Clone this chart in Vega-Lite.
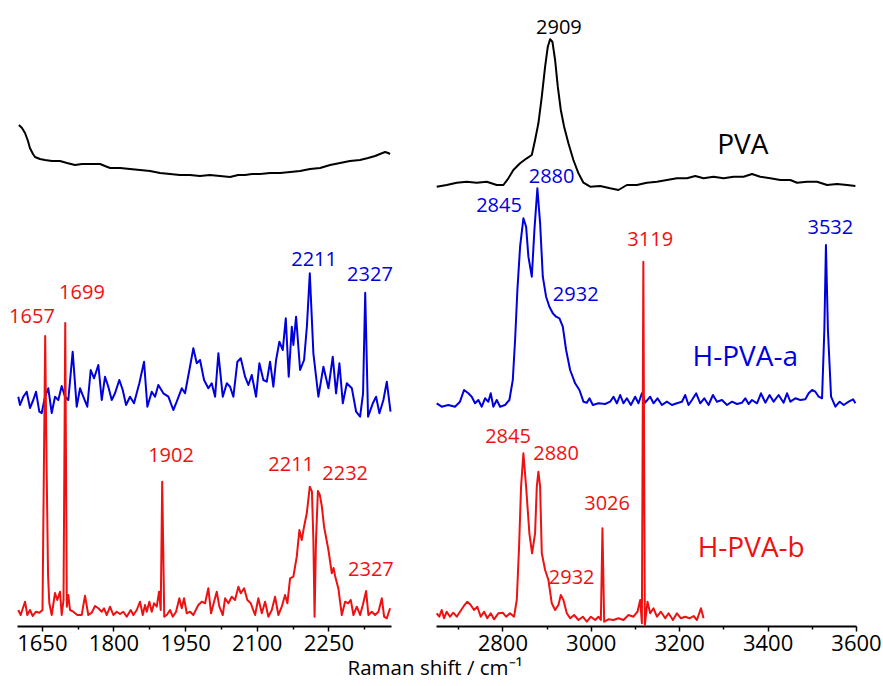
{
"$schema": "https://vega.github.io/schema/vega-lite/v6.json",
"padding": {"left": 9, "top": 0, "right": 0, "bottom": 0},
"background": "white",
"config": {"view": {"stroke": null}, "font": "Open Sans"},
"title": {"text": "Raman shift / cm⁻¹", "orient": "bottom", "anchor": "middle", "fontSize": 20.5, "fontWeight": "normal", "font": "Open Sans", "color": "black", "offset": 5, "dx": -10},
"spacing": 45,
"bounds": "flush",
"resolve": {"scale": {"x": "independent", "y": "independent"}},
"datasets": {
"spectra": [
{"panel":"L","series":"PVA","shift":1602,"intensity":501},{"panel":"L","series":"PVA","shift":1608.5,"intensity":498},{"panel":"L","series":"PVA","shift":1614.8,"intensity":493},{"panel":"L","series":"PVA","shift":1621,"intensity":485},{"panel":"L","series":"PVA","shift":1625,"intensity":478},{"panel":"L","series":"PVA","shift":1631.5,"intensity":472},{"panel":"L","series":"PVA","shift":1635.7,"intensity":469},{"panel":"L","series":"PVA","shift":1646,"intensity":467},{"panel":"L","series":"PVA","shift":1656.6,"intensity":466},{"panel":"L","series":"PVA","shift":1671,"intensity":465},{"panel":"L","series":"PVA","shift":1688,"intensity":465},{"panel":"L","series":"PVA","shift":1702.7,"intensity":463},{"panel":"L","series":"PVA","shift":1719.5,"intensity":461},{"panel":"L","series":"PVA","shift":1734,"intensity":462},{"panel":"L","series":"PVA","shift":1751,"intensity":462},{"panel":"L","series":"PVA","shift":1772,"intensity":462},{"panel":"L","series":"PVA","shift":1782,"intensity":460},{"panel":"L","series":"PVA","shift":1793,"intensity":458},{"panel":"L","series":"PVA","shift":1814,"intensity":458},{"panel":"L","series":"PVA","shift":1834.6,"intensity":457},{"panel":"L","series":"PVA","shift":1855.6,"intensity":456},{"panel":"L","series":"PVA","shift":1876.5,"intensity":455},{"panel":"L","series":"PVA","shift":1897.5,"intensity":453},{"panel":"L","series":"PVA","shift":1918.4,"intensity":452},{"panel":"L","series":"PVA","shift":1939,"intensity":451},{"panel":"L","series":"PVA","shift":1960,"intensity":451},{"panel":"L","series":"PVA","shift":1981,"intensity":450},{"panel":"L","series":"PVA","shift":2002,"intensity":451},{"panel":"L","series":"PVA","shift":2023,"intensity":450},{"panel":"L","series":"PVA","shift":2044,"intensity":449},{"panel":"L","series":"PVA","shift":2061,"intensity":451},{"panel":"L","series":"PVA","shift":2075.5,"intensity":451},{"panel":"L","series":"PVA","shift":2090,"intensity":452},{"panel":"L","series":"PVA","shift":2107,"intensity":452},{"panel":"L","series":"PVA","shift":2128,"intensity":453},{"panel":"L","series":"PVA","shift":2149,"intensity":453},{"panel":"L","series":"PVA","shift":2170,"intensity":454},{"panel":"L","series":"PVA","shift":2190.6,"intensity":455},{"panel":"L","series":"PVA","shift":2211.6,"intensity":457},{"panel":"L","series":"PVA","shift":2232.5,"intensity":458},{"panel":"L","series":"PVA","shift":2253.5,"intensity":461},{"panel":"L","series":"PVA","shift":2274.4,"intensity":463},{"panel":"L","series":"PVA","shift":2295,"intensity":465},{"panel":"L","series":"PVA","shift":2316,"intensity":466},{"panel":"L","series":"PVA","shift":2333,"intensity":468},{"panel":"L","series":"PVA","shift":2347.7,"intensity":470},{"panel":"L","series":"PVA","shift":2358,"intensity":472},{"panel":"L","series":"PVA","shift":2368.7,"intensity":474},{"panel":"L","series":"PVA","shift":2375,"intensity":473},{"panel":"L","series":"PVA","shift":2379,"intensity":472},
{"panel":"R","series":"PVA","shift":2651.6,"intensity":439.3},{"panel":"R","series":"PVA","shift":2674.2,"intensity":441},{"panel":"R","series":"PVA","shift":2696.9,"intensity":443.3},{"panel":"R","series":"PVA","shift":2719.5,"intensity":444.3},{"panel":"R","series":"PVA","shift":2742.1,"intensity":443.3},{"panel":"R","series":"PVA","shift":2764.8,"intensity":444.3},{"panel":"R","series":"PVA","shift":2787.4,"intensity":441},{"panel":"R","series":"PVA","shift":2802.4,"intensity":441},{"panel":"R","series":"PVA","shift":2813.7,"intensity":447.7},{"panel":"R","series":"PVA","shift":2825,"intensity":456},{"panel":"R","series":"PVA","shift":2840.2,"intensity":462.7},{"panel":"R","series":"PVA","shift":2855.3,"intensity":467.7},{"panel":"R","series":"PVA","shift":2866.7,"intensity":471},{"panel":"R","series":"PVA","shift":2874.1,"intensity":486},{"panel":"R","series":"PVA","shift":2881.6,"intensity":502.7},{"panel":"R","series":"PVA","shift":2889.3,"intensity":529.3},{"panel":"R","series":"PVA","shift":2896.8,"intensity":559.3},{"panel":"R","series":"PVA","shift":2902.9,"intensity":579.3},{"panel":"R","series":"PVA","shift":2908.1,"intensity":586.7},{"panel":"R","series":"PVA","shift":2913.3,"intensity":584.3},{"panel":"R","series":"PVA","shift":2919.4,"intensity":566},{"panel":"R","series":"PVA","shift":2925.5,"intensity":539.3},{"panel":"R","series":"PVA","shift":2932.3,"intensity":516},{"panel":"R","series":"PVA","shift":2939.8,"intensity":499.3},{"panel":"R","series":"PVA","shift":2949.5,"intensity":482.7},{"panel":"R","series":"PVA","shift":2960.8,"intensity":466},{"panel":"R","series":"PVA","shift":2972.2,"intensity":452.7},{"panel":"R","series":"PVA","shift":2983.5,"intensity":443.3},{"panel":"R","series":"PVA","shift":2998.7,"intensity":439.3},{"panel":"R","series":"PVA","shift":3021.3,"intensity":440},{"panel":"R","series":"PVA","shift":3043.9,"intensity":437.7},{"panel":"R","series":"PVA","shift":3062.7,"intensity":436},{"panel":"R","series":"PVA","shift":3081.7,"intensity":441},{"panel":"R","series":"PVA","shift":3104.4,"intensity":441},{"panel":"R","series":"PVA","shift":3127,"intensity":443.3},{"panel":"R","series":"PVA","shift":3149.7,"intensity":444.3},{"panel":"R","series":"PVA","shift":3172.3,"intensity":446},{"panel":"R","series":"PVA","shift":3194.9,"intensity":447.7},{"panel":"R","series":"PVA","shift":3217.6,"intensity":447.7},{"panel":"R","series":"PVA","shift":3236.4,"intensity":450},{"panel":"R","series":"PVA","shift":3255.2,"intensity":447.7},{"panel":"R","series":"PVA","shift":3277.8,"intensity":449.3},{"panel":"R","series":"PVA","shift":3300.4,"intensity":447.7},{"panel":"R","series":"PVA","shift":3323.1,"intensity":449.3},{"panel":"R","series":"PVA","shift":3345.7,"intensity":449.3},{"panel":"R","series":"PVA","shift":3364.8,"intensity":452},{"panel":"R","series":"PVA","shift":3383.5,"intensity":449.3},{"panel":"R","series":"PVA","shift":3406.2,"intensity":447.7},{"panel":"R","series":"PVA","shift":3428.8,"intensity":446},{"panel":"R","series":"PVA","shift":3451.5,"intensity":446},{"panel":"R","series":"PVA","shift":3466.6,"intensity":443.3},{"panel":"R","series":"PVA","shift":3489.3,"intensity":444.3},{"panel":"R","series":"PVA","shift":3511.9,"intensity":444.3},{"panel":"R","series":"PVA","shift":3534.6,"intensity":441},{"panel":"R","series":"PVA","shift":3557.2,"intensity":442},{"panel":"R","series":"PVA","shift":3579.8,"intensity":441},{"panel":"R","series":"PVA","shift":3598.6,"intensity":440},
{"panel":"L","series":"H-PVA-a","shift":1600.7,"intensity":229.3},{"panel":"L","series":"H-PVA-a","shift":1604.3,"intensity":221},{"panel":"L","series":"H-PVA-a","shift":1611.2,"intensity":229.3},{"panel":"L","series":"H-PVA-a","shift":1618.3,"intensity":234.3},{"panel":"L","series":"H-PVA-a","shift":1625.2,"intensity":218},{"panel":"L","series":"H-PVA-a","shift":1632.1,"intensity":226},{"panel":"L","series":"H-PVA-a","shift":1637.8,"intensity":234.3},{"panel":"L","series":"H-PVA-a","shift":1644.7,"intensity":214.3},{"panel":"L","series":"H-PVA-a","shift":1649.7,"intensity":213},{"panel":"L","series":"H-PVA-a","shift":1656.6,"intensity":229.3},{"panel":"L","series":"H-PVA-a","shift":1663.5,"intensity":237.7},{"panel":"L","series":"H-PVA-a","shift":1670.7,"intensity":213},{"panel":"L","series":"H-PVA-a","shift":1677.6,"intensity":229.3},{"panel":"L","series":"H-PVA-a","shift":1684.5,"intensity":226},{"panel":"L","series":"H-PVA-a","shift":1691.6,"intensity":240},{"panel":"L","series":"H-PVA-a","shift":1698.5,"intensity":229.3},{"panel":"L","series":"H-PVA-a","shift":1705.4,"intensity":226},{"panel":"L","series":"H-PVA-a","shift":1714.6,"intensity":274.3},{"panel":"L","series":"H-PVA-a","shift":1723,"intensity":219.3},{"panel":"L","series":"H-PVA-a","shift":1730,"intensity":237.7},{"panel":"L","series":"H-PVA-a","shift":1736.8,"intensity":229.3},{"panel":"L","series":"H-PVA-a","shift":1745.2,"intensity":219.3},{"panel":"L","series":"H-PVA-a","shift":1752.3,"intensity":256},{"panel":"L","series":"H-PVA-a","shift":1759.3,"intensity":247.7},{"panel":"L","series":"H-PVA-a","shift":1768.3,"intensity":261},{"panel":"L","series":"H-PVA-a","shift":1775.4,"intensity":226},{"panel":"L","series":"H-PVA-a","shift":1782.3,"intensity":249.3},{"panel":"L","series":"H-PVA-a","shift":1789.2,"intensity":239.3},{"panel":"L","series":"H-PVA-a","shift":1796.3,"intensity":226},{"panel":"L","series":"H-PVA-a","shift":1803.2,"intensity":232.7},{"panel":"L","series":"H-PVA-a","shift":1812.2,"intensity":246},{"panel":"L","series":"H-PVA-a","shift":1819.4,"intensity":236},{"panel":"L","series":"H-PVA-a","shift":1826.3,"intensity":221},{"panel":"L","series":"H-PVA-a","shift":1834.6,"intensity":229.3},{"panel":"L","series":"H-PVA-a","shift":1843,"intensity":222.7},{"panel":"L","series":"H-PVA-a","shift":1854.1,"intensity":242.7},{"panel":"L","series":"H-PVA-a","shift":1864,"intensity":264.3},{"panel":"L","series":"H-PVA-a","shift":1870.9,"intensity":219.3},{"panel":"L","series":"H-PVA-a","shift":1880.1,"intensity":234.3},{"panel":"L","series":"H-PVA-a","shift":1887,"intensity":229.3},{"panel":"L","series":"H-PVA-a","shift":1893.9,"intensity":241},{"panel":"L","series":"H-PVA-a","shift":1904.4,"intensity":232.7},{"panel":"L","series":"H-PVA-a","shift":1914.9,"intensity":229.3},{"panel":"L","series":"H-PVA-a","shift":1925.3,"intensity":216},{"panel":"L","series":"H-PVA-a","shift":1932.4,"intensity":224.3},{"panel":"L","series":"H-PVA-a","shift":1942.9,"intensity":237.7},{"panel":"L","series":"H-PVA-a","shift":1949.8,"intensity":232.7},{"panel":"L","series":"H-PVA-a","shift":1958.2,"intensity":254.3},{"panel":"L","series":"H-PVA-a","shift":1967.2,"intensity":277.7},{"panel":"L","series":"H-PVA-a","shift":1974.3,"intensity":262.7},{"panel":"L","series":"H-PVA-a","shift":1981.2,"intensity":266},{"panel":"L","series":"H-PVA-a","shift":1989.6,"intensity":246},{"panel":"L","series":"H-PVA-a","shift":1998.6,"intensity":237.7},{"panel":"L","series":"H-PVA-a","shift":2005.7,"intensity":242.7},{"panel":"L","series":"H-PVA-a","shift":2012.7,"intensity":229.3},{"panel":"L","series":"H-PVA-a","shift":2019.6,"intensity":272.7},{"panel":"L","series":"H-PVA-a","shift":2028.8,"intensity":229.3},{"panel":"L","series":"H-PVA-a","shift":2037.2,"intensity":242.7},{"panel":"L","series":"H-PVA-a","shift":2044.1,"intensity":239.3},{"panel":"L","series":"H-PVA-a","shift":2051,"intensity":229.3},{"panel":"L","series":"H-PVA-a","shift":2059.4,"intensity":264.3},{"panel":"L","series":"H-PVA-a","shift":2066.5,"intensity":267.7},{"panel":"L","series":"H-PVA-a","shift":2075.5,"intensity":249.3},{"panel":"L","series":"H-PVA-a","shift":2082.4,"intensity":241},{"panel":"L","series":"H-PVA-a","shift":2089.5,"intensity":251},{"panel":"L","series":"H-PVA-a","shift":2098.5,"intensity":229.3},{"panel":"L","series":"H-PVA-a","shift":2105.4,"intensity":262.7},{"panel":"L","series":"H-PVA-a","shift":2113.8,"intensity":246},{"panel":"L","series":"H-PVA-a","shift":2120.9,"intensity":244.3},{"panel":"L","series":"H-PVA-a","shift":2127.8,"intensity":264.3},{"panel":"L","series":"H-PVA-a","shift":2134.7,"intensity":239.3},{"panel":"L","series":"H-PVA-a","shift":2140.4,"intensity":266},{"panel":"L","series":"H-PVA-a","shift":2147.3,"intensity":284.3},{"panel":"L","series":"H-PVA-a","shift":2154.4,"intensity":276},{"panel":"L","series":"H-PVA-a","shift":2160.7,"intensity":307.7},{"panel":"L","series":"H-PVA-a","shift":2166.9,"intensity":249.3},{"panel":"L","series":"H-PVA-a","shift":2173.3,"intensity":299.3},{"panel":"L","series":"H-PVA-a","shift":2176.6,"intensity":281},{"panel":"L","series":"H-PVA-a","shift":2182.3,"intensity":309.3},{"panel":"L","series":"H-PVA-a","shift":2190.7,"intensity":256},{"panel":"L","series":"H-PVA-a","shift":2199,"intensity":266},{"panel":"L","series":"H-PVA-a","shift":2205,"intensity":300},{"panel":"L","series":"H-PVA-a","shift":2211,"intensity":352.7},{"panel":"L","series":"H-PVA-a","shift":2218.5,"intensity":272.7},{"panel":"L","series":"H-PVA-a","shift":2229,"intensity":229.3},{"panel":"L","series":"H-PVA-a","shift":2239.5,"intensity":259.3},{"panel":"L","series":"H-PVA-a","shift":2250,"intensity":237.7},{"panel":"L","series":"H-PVA-a","shift":2259.1,"intensity":269.3},{"panel":"L","series":"H-PVA-a","shift":2266,"intensity":232.7},{"panel":"L","series":"H-PVA-a","shift":2273,"intensity":262.7},{"panel":"L","series":"H-PVA-a","shift":2280.1,"intensity":222.7},{"panel":"L","series":"H-PVA-a","shift":2288.5,"intensity":242.7},{"panel":"L","series":"H-PVA-a","shift":2299,"intensity":237.7},{"panel":"L","series":"H-PVA-a","shift":2308,"intensity":214.3},{"panel":"L","series":"H-PVA-a","shift":2316.3,"intensity":209.3},{"panel":"L","series":"H-PVA-a","shift":2322.5,"intensity":232.7},{"panel":"L","series":"H-PVA-a","shift":2327,"intensity":333.3},{"panel":"L","series":"H-PVA-a","shift":2333,"intensity":209.3},{"panel":"L","series":"H-PVA-a","shift":2342.9,"intensity":222.7},{"panel":"L","series":"H-PVA-a","shift":2349.8,"intensity":229.3},{"panel":"L","series":"H-PVA-a","shift":2356.7,"intensity":212.7},{"panel":"L","series":"H-PVA-a","shift":2365.1,"intensity":226},{"panel":"L","series":"H-PVA-a","shift":2372.2,"intensity":244.3},{"panel":"L","series":"H-PVA-a","shift":2380,"intensity":214.3},
{"panel":"R","series":"H-PVA-a","shift":2651.6,"intensity":222.7},{"panel":"R","series":"H-PVA-a","shift":2662.9,"intensity":219.3},{"panel":"R","series":"H-PVA-a","shift":2677.8,"intensity":221},{"panel":"R","series":"H-PVA-a","shift":2693,"intensity":219.3},{"panel":"R","series":"H-PVA-a","shift":2704.3,"intensity":224.3},{"panel":"R","series":"H-PVA-a","shift":2713.4,"intensity":236},{"panel":"R","series":"H-PVA-a","shift":2723.1,"intensity":232.7},{"panel":"R","series":"H-PVA-a","shift":2730.8,"intensity":229.3},{"panel":"R","series":"H-PVA-a","shift":2738.3,"intensity":222.7},{"panel":"R","series":"H-PVA-a","shift":2745.8,"intensity":226},{"panel":"R","series":"H-PVA-a","shift":2753.5,"intensity":219.3},{"panel":"R","series":"H-PVA-a","shift":2760.9,"intensity":227.7},{"panel":"R","series":"H-PVA-a","shift":2768.4,"intensity":224.3},{"panel":"R","series":"H-PVA-a","shift":2773.8,"intensity":232.7},{"panel":"R","series":"H-PVA-a","shift":2779.7,"intensity":219.3},{"panel":"R","series":"H-PVA-a","shift":2787.4,"intensity":226},{"panel":"R","series":"H-PVA-a","shift":2794.9,"intensity":219.3},{"panel":"R","series":"H-PVA-a","shift":2806.2,"intensity":221},{"panel":"R","series":"H-PVA-a","shift":2816,"intensity":226},{"panel":"R","series":"H-PVA-a","shift":2823.7,"intensity":246},{"panel":"R","series":"H-PVA-a","shift":2828.9,"intensity":286},{"panel":"R","series":"H-PVA-a","shift":2834.1,"intensity":336},{"panel":"R","series":"H-PVA-a","shift":2840.2,"intensity":379.3},{"panel":"R","series":"H-PVA-a","shift":2847.7,"intensity":407.7},{"panel":"R","series":"H-PVA-a","shift":2853.8,"intensity":399.3},{"panel":"R","series":"H-PVA-a","shift":2859,"intensity":369.3},{"panel":"R","series":"H-PVA-a","shift":2866.7,"intensity":349.3},{"panel":"R","series":"H-PVA-a","shift":2872.6,"intensity":396},{"panel":"R","series":"H-PVA-a","shift":2879.3,"intensity":437.7},{"panel":"R","series":"H-PVA-a","shift":2885.5,"intensity":402.7},{"panel":"R","series":"H-PVA-a","shift":2891.6,"intensity":349.3},{"panel":"R","series":"H-PVA-a","shift":2899,"intensity":329.3},{"panel":"R","series":"H-PVA-a","shift":2906.5,"intensity":319.3},{"panel":"R","series":"H-PVA-a","shift":2914.2,"intensity":312.7},{"panel":"R","series":"H-PVA-a","shift":2921.7,"intensity":309.3},{"panel":"R","series":"H-PVA-a","shift":2929.2,"intensity":307.7},{"panel":"R","series":"H-PVA-a","shift":2936.8,"intensity":299.3},{"panel":"R","series":"H-PVA-a","shift":2944.3,"intensity":276},{"panel":"R","series":"H-PVA-a","shift":2953.4,"intensity":256},{"panel":"R","series":"H-PVA-a","shift":2964.7,"intensity":242.7},{"panel":"R","series":"H-PVA-a","shift":2974.4,"intensity":236},{"panel":"R","series":"H-PVA-a","shift":2983.5,"intensity":224.3},{"panel":"R","series":"H-PVA-a","shift":2991.2,"intensity":223.3},{"panel":"R","series":"H-PVA-a","shift":2997.1,"intensity":227.7},{"panel":"R","series":"H-PVA-a","shift":3004.8,"intensity":221},{"panel":"R","series":"H-PVA-a","shift":3017.5,"intensity":222.7},{"panel":"R","series":"H-PVA-a","shift":3032.6,"intensity":222},{"panel":"R","series":"H-PVA-a","shift":3043.9,"intensity":224.3},{"panel":"R","series":"H-PVA-a","shift":3051.4,"intensity":229.3},{"panel":"R","series":"H-PVA-a","shift":3059.1,"intensity":222.7},{"panel":"R","series":"H-PVA-a","shift":3066.6,"intensity":231},{"panel":"R","series":"H-PVA-a","shift":3074.1,"intensity":222.7},{"panel":"R","series":"H-PVA-a","shift":3081.7,"intensity":227.7},{"panel":"R","series":"H-PVA-a","shift":3090.8,"intensity":221},{"panel":"R","series":"H-PVA-a","shift":3100.5,"intensity":229.3},{"panel":"R","series":"H-PVA-a","shift":3108,"intensity":222.7},{"panel":"R","series":"H-PVA-a","shift":3115.7,"intensity":232.7},{"panel":"R","series":"H-PVA-a","shift":3123.2,"intensity":223.3},{"panel":"R","series":"H-PVA-a","shift":3134.5,"intensity":229.3},{"panel":"R","series":"H-PVA-a","shift":3142,"intensity":222.7},{"panel":"R","series":"H-PVA-a","shift":3151,"intensity":227.7},{"panel":"R","series":"H-PVA-a","shift":3161,"intensity":221},{"panel":"R","series":"H-PVA-a","shift":3172.3,"intensity":224.3},{"panel":"R","series":"H-PVA-a","shift":3183.6,"intensity":221},{"panel":"R","series":"H-PVA-a","shift":3194.9,"intensity":222.7},{"panel":"R","series":"H-PVA-a","shift":3206.3,"intensity":224.3},{"panel":"R","series":"H-PVA-a","shift":3213.7,"intensity":231},{"panel":"R","series":"H-PVA-a","shift":3221.2,"intensity":221},{"panel":"R","series":"H-PVA-a","shift":3228.9,"intensity":226},{"panel":"R","series":"H-PVA-a","shift":3238.6,"intensity":232.7},{"panel":"R","series":"H-PVA-a","shift":3247.7,"intensity":222.7},{"panel":"R","series":"H-PVA-a","shift":3256.8,"intensity":227.7},{"panel":"R","series":"H-PVA-a","shift":3266.5,"intensity":221},{"panel":"R","series":"H-PVA-a","shift":3276.4,"intensity":231},{"panel":"R","series":"H-PVA-a","shift":3285.5,"intensity":224.3},{"panel":"R","series":"H-PVA-a","shift":3296.8,"intensity":226},{"panel":"R","series":"H-PVA-a","shift":3308.2,"intensity":221},{"panel":"R","series":"H-PVA-a","shift":3319.5,"intensity":224.3},{"panel":"R","series":"H-PVA-a","shift":3330.8,"intensity":222},{"panel":"R","series":"H-PVA-a","shift":3342.1,"intensity":223.3},{"panel":"R","series":"H-PVA-a","shift":3349.6,"intensity":227.7},{"panel":"R","series":"H-PVA-a","shift":3357.1,"intensity":222},{"panel":"R","series":"H-PVA-a","shift":3364.8,"intensity":226},{"panel":"R","series":"H-PVA-a","shift":3376.1,"intensity":222.7},{"panel":"R","series":"H-PVA-a","shift":3385.1,"intensity":232.7},{"panel":"R","series":"H-PVA-a","shift":3394.9,"intensity":223.3},{"panel":"R","series":"H-PVA-a","shift":3404.6,"intensity":231},{"panel":"R","series":"H-PVA-a","shift":3413.7,"intensity":224.3},{"panel":"R","series":"H-PVA-a","shift":3425,"intensity":231},{"panel":"R","series":"H-PVA-a","shift":3436.3,"intensity":223.3},{"panel":"R","series":"H-PVA-a","shift":3444,"intensity":232.7},{"panel":"R","series":"H-PVA-a","shift":3451.5,"intensity":224.3},{"panel":"R","series":"H-PVA-a","shift":3462.8,"intensity":227.7},{"panel":"R","series":"H-PVA-a","shift":3474.1,"intensity":226},{"panel":"R","series":"H-PVA-a","shift":3485.4,"intensity":226.7},{"panel":"R","series":"H-PVA-a","shift":3492.9,"intensity":232.7},{"panel":"R","series":"H-PVA-a","shift":3500.6,"intensity":236},{"panel":"R","series":"H-PVA-a","shift":3508.1,"intensity":234.3},{"panel":"R","series":"H-PVA-a","shift":3515.6,"intensity":229.3},{"panel":"R","series":"H-PVA-a","shift":3523.2,"intensity":227.7},{"panel":"R","series":"H-PVA-a","shift":3528.4,"intensity":296},{"panel":"R","series":"H-PVA-a","shift":3532,"intensity":381},{"panel":"R","series":"H-PVA-a","shift":3536.5,"intensity":296},{"panel":"R","series":"H-PVA-a","shift":3543.6,"intensity":229.3},{"panel":"R","series":"H-PVA-a","shift":3553.4,"intensity":219.3},{"panel":"R","series":"H-PVA-a","shift":3563.1,"intensity":224.3},{"panel":"R","series":"H-PVA-a","shift":3572.2,"intensity":221},{"panel":"R","series":"H-PVA-a","shift":3583.5,"intensity":224.3},{"panel":"R","series":"H-PVA-a","shift":3593.4,"intensity":226.7},{"panel":"R","series":"H-PVA-a","shift":3598.6,"intensity":222.7},
{"panel":"L","series":"H-PVA-b","shift":1600.7,"intensity":16},{"panel":"L","series":"H-PVA-b","shift":1605.7,"intensity":11},{"panel":"L","series":"H-PVA-b","shift":1614.8,"intensity":24.3},{"panel":"L","series":"H-PVA-b","shift":1619.6,"intensity":11},{"panel":"L","series":"H-PVA-b","shift":1625.2,"intensity":16},{"panel":"L","series":"H-PVA-b","shift":1630.9,"intensity":10},{"panel":"L","series":"H-PVA-b","shift":1637.8,"intensity":14.3},{"panel":"L","series":"H-PVA-b","shift":1644.7,"intensity":13.3},{"panel":"L","series":"H-PVA-b","shift":1651.4,"intensity":16},{"panel":"L","series":"H-PVA-b","shift":1657,"intensity":290},{"panel":"L","series":"H-PVA-b","shift":1659.8,"intensity":166},{"panel":"L","series":"H-PVA-b","shift":1663,"intensity":51},{"panel":"L","series":"H-PVA-b","shift":1665.6,"intensity":23},{"panel":"L","series":"H-PVA-b","shift":1670.7,"intensity":11},{"panel":"L","series":"H-PVA-b","shift":1677.6,"intensity":33},{"panel":"L","series":"H-PVA-b","shift":1682.4,"intensity":26},{"panel":"L","series":"H-PVA-b","shift":1688,"intensity":34.3},{"panel":"L","series":"H-PVA-b","shift":1691.6,"intensity":11},{"panel":"L","series":"H-PVA-b","shift":1695.4,"intensity":26},{"panel":"L","series":"H-PVA-b","shift":1699,"intensity":303},{"panel":"L","series":"H-PVA-b","shift":1702.3,"intensity":19.3},{"panel":"L","series":"H-PVA-b","shift":1705.4,"intensity":31},{"panel":"L","series":"H-PVA-b","shift":1709,"intensity":16},{"panel":"L","series":"H-PVA-b","shift":1715.9,"intensity":14.3},{"panel":"L","series":"H-PVA-b","shift":1724.3,"intensity":11},{"panel":"L","series":"H-PVA-b","shift":1733.5,"intensity":11},{"panel":"L","series":"H-PVA-b","shift":1740.4,"intensity":30.3},{"panel":"L","series":"H-PVA-b","shift":1747.3,"intensity":11},{"panel":"L","series":"H-PVA-b","shift":1754.4,"intensity":13.3},{"panel":"L","series":"H-PVA-b","shift":1761.3,"intensity":20},{"panel":"L","series":"H-PVA-b","shift":1768.3,"intensity":17.7},{"panel":"L","series":"H-PVA-b","shift":1775.4,"intensity":14.3},{"panel":"L","series":"H-PVA-b","shift":1780.2,"intensity":17.7},{"panel":"L","series":"H-PVA-b","shift":1785.9,"intensity":11},{"panel":"L","series":"H-PVA-b","shift":1792.8,"intensity":19.3},{"panel":"L","series":"H-PVA-b","shift":1799.7,"intensity":11},{"panel":"L","series":"H-PVA-b","shift":1806.8,"intensity":14.3},{"panel":"L","series":"H-PVA-b","shift":1813.7,"intensity":12},{"panel":"L","series":"H-PVA-b","shift":1820.6,"intensity":14.3},{"panel":"L","series":"H-PVA-b","shift":1827.7,"intensity":9.3},{"panel":"L","series":"H-PVA-b","shift":1836.1,"intensity":16},{"panel":"L","series":"H-PVA-b","shift":1841.6,"intensity":11},{"panel":"L","series":"H-PVA-b","shift":1848.7,"intensity":16},{"panel":"L","series":"H-PVA-b","shift":1855.6,"intensity":24.3},{"panel":"L","series":"H-PVA-b","shift":1861.2,"intensity":11},{"panel":"L","series":"H-PVA-b","shift":1866,"intensity":21},{"panel":"L","series":"H-PVA-b","shift":1869.6,"intensity":14.3},{"panel":"L","series":"H-PVA-b","shift":1875.1,"intensity":24.3},{"panel":"L","series":"H-PVA-b","shift":1880.1,"intensity":14.3},{"panel":"L","series":"H-PVA-b","shift":1884.9,"intensity":22.7},{"panel":"L","series":"H-PVA-b","shift":1890.6,"intensity":19.3},{"panel":"L","series":"H-PVA-b","shift":1895.4,"intensity":34.3},{"panel":"L","series":"H-PVA-b","shift":1898.9,"intensity":16},{"panel":"L","series":"H-PVA-b","shift":1902,"intensity":144.3},{"panel":"L","series":"H-PVA-b","shift":1906.3,"intensity":9.3},{"panel":"L","series":"H-PVA-b","shift":1911.5,"intensity":11},{"panel":"L","series":"H-PVA-b","shift":1918.4,"intensity":16},{"panel":"L","series":"H-PVA-b","shift":1924.1,"intensity":9.3},{"panel":"L","series":"H-PVA-b","shift":1931,"intensity":14.3},{"panel":"L","series":"H-PVA-b","shift":1937.9,"intensity":27.7},{"panel":"L","series":"H-PVA-b","shift":1942.9,"intensity":17.7},{"panel":"L","series":"H-PVA-b","shift":1947.7,"intensity":27.7},{"panel":"L","series":"H-PVA-b","shift":1953.4,"intensity":12.7},{"panel":"L","series":"H-PVA-b","shift":1960.3,"intensity":14.3},{"panel":"L","series":"H-PVA-b","shift":1967.2,"intensity":11},{"panel":"L","series":"H-PVA-b","shift":1977.7,"intensity":21},{"panel":"L","series":"H-PVA-b","shift":1984.8,"intensity":24.3},{"panel":"L","series":"H-PVA-b","shift":1991.7,"intensity":22.7},{"panel":"L","series":"H-PVA-b","shift":1998.6,"intensity":37.7},{"panel":"L","series":"H-PVA-b","shift":2004.3,"intensity":12.7},{"panel":"L","series":"H-PVA-b","shift":2010.6,"intensity":24.3},{"panel":"L","series":"H-PVA-b","shift":2016.2,"intensity":34.3},{"panel":"L","series":"H-PVA-b","shift":2021.7,"intensity":19.3},{"panel":"L","series":"H-PVA-b","shift":2028.8,"intensity":11},{"panel":"L","series":"H-PVA-b","shift":2033.6,"intensity":27.7},{"panel":"L","series":"H-PVA-b","shift":2040.5,"intensity":22.7},{"panel":"L","series":"H-PVA-b","shift":2047.6,"intensity":29.3},{"panel":"L","series":"H-PVA-b","shift":2054.5,"intensity":26},{"panel":"L","series":"H-PVA-b","shift":2061.5,"intensity":39.3},{"panel":"L","series":"H-PVA-b","shift":2066.5,"intensity":32.7},{"panel":"L","series":"H-PVA-b","shift":2073.4,"intensity":37.7},{"panel":"L","series":"H-PVA-b","shift":2080.3,"intensity":26},{"panel":"L","series":"H-PVA-b","shift":2087.4,"intensity":22.7},{"panel":"L","series":"H-PVA-b","shift":2096.4,"intensity":11},{"panel":"L","series":"H-PVA-b","shift":2103.3,"intensity":27.7},{"panel":"L","series":"H-PVA-b","shift":2110.5,"intensity":12.7},{"panel":"L","series":"H-PVA-b","shift":2117.4,"intensity":24.3},{"panel":"L","series":"H-PVA-b","shift":2124.3,"intensity":9.3},{"panel":"L","series":"H-PVA-b","shift":2131.4,"intensity":16},{"panel":"L","series":"H-PVA-b","shift":2138.3,"intensity":29.3},{"panel":"L","series":"H-PVA-b","shift":2145.2,"intensity":11},{"panel":"L","series":"H-PVA-b","shift":2152.3,"intensity":19.3},{"panel":"L","series":"H-PVA-b","shift":2159.2,"intensity":31},{"panel":"L","series":"H-PVA-b","shift":2164.1,"intensity":22.7},{"panel":"L","series":"H-PVA-b","shift":2169.7,"intensity":47.7},{"panel":"L","series":"H-PVA-b","shift":2176.6,"intensity":49.3},{"panel":"L","series":"H-PVA-b","shift":2183.7,"intensity":69.3},{"panel":"L","series":"H-PVA-b","shift":2189.2,"intensity":96},{"panel":"L","series":"H-PVA-b","shift":2194.2,"intensity":86},{"panel":"L","series":"H-PVA-b","shift":2199,"intensity":99.3},{"panel":"L","series":"H-PVA-b","shift":2204.7,"intensity":112.7},{"panel":"L","series":"H-PVA-b","shift":2211,"intensity":139.3},{"panel":"L","series":"H-PVA-b","shift":2215.5,"intensity":134.3},{"panel":"L","series":"H-PVA-b","shift":2218.5,"intensity":86},{"panel":"L","series":"H-PVA-b","shift":2221,"intensity":9.3},{"panel":"L","series":"H-PVA-b","shift":2224,"intensity":86},{"panel":"L","series":"H-PVA-b","shift":2228,"intensity":135},{"panel":"L","series":"H-PVA-b","shift":2232,"intensity":131},{"panel":"L","series":"H-PVA-b","shift":2236.1,"intensity":120},{"panel":"L","series":"H-PVA-b","shift":2240.9,"intensity":99.3},{"panel":"L","series":"H-PVA-b","shift":2250,"intensity":76},{"panel":"L","series":"H-PVA-b","shift":2257.1,"intensity":52.7},{"panel":"L","series":"H-PVA-b","shift":2260.8,"intensity":58},{"panel":"L","series":"H-PVA-b","shift":2264,"intensity":50},{"panel":"L","series":"H-PVA-b","shift":2270.9,"intensity":37.3},{"panel":"L","series":"H-PVA-b","shift":2278,"intensity":11},{"panel":"L","series":"H-PVA-b","shift":2284.9,"intensity":24.3},{"panel":"L","series":"H-PVA-b","shift":2291.2,"intensity":22.7},{"panel":"L","series":"H-PVA-b","shift":2296.8,"intensity":26},{"panel":"L","series":"H-PVA-b","shift":2302.3,"intensity":11},{"panel":"L","series":"H-PVA-b","shift":2309.4,"intensity":19.3},{"panel":"L","series":"H-PVA-b","shift":2316.3,"intensity":11},{"panel":"L","series":"H-PVA-b","shift":2322,"intensity":21},{"panel":"L","series":"H-PVA-b","shift":2328.9,"intensity":35},{"panel":"L","series":"H-PVA-b","shift":2333.7,"intensity":11},{"panel":"L","series":"H-PVA-b","shift":2340.8,"intensity":14.3},{"panel":"L","series":"H-PVA-b","shift":2347.7,"intensity":11},{"panel":"L","series":"H-PVA-b","shift":2354.7,"intensity":14.3},{"panel":"L","series":"H-PVA-b","shift":2361.8,"intensity":27.7},{"panel":"L","series":"H-PVA-b","shift":2366.6,"intensity":9.3},{"panel":"L","series":"H-PVA-b","shift":2372.2,"intensity":7.7},{"panel":"L","series":"H-PVA-b","shift":2379.1,"intensity":17.7},
{"panel":"R","series":"H-PVA-b","shift":2651.6,"intensity":12.7},{"panel":"R","series":"H-PVA-b","shift":2657.5,"intensity":9.3},{"panel":"R","series":"H-PVA-b","shift":2662.9,"intensity":16},{"panel":"R","series":"H-PVA-b","shift":2668.1,"intensity":7.7},{"panel":"R","series":"H-PVA-b","shift":2674.2,"intensity":14.3},{"panel":"R","series":"H-PVA-b","shift":2681.7,"intensity":9.3},{"panel":"R","series":"H-PVA-b","shift":2689.2,"intensity":13.3},{"panel":"R","series":"H-PVA-b","shift":2696.9,"intensity":9.3},{"panel":"R","series":"H-PVA-b","shift":2704.3,"intensity":14.3},{"panel":"R","series":"H-PVA-b","shift":2711.8,"intensity":19.3},{"panel":"R","series":"H-PVA-b","shift":2720.9,"intensity":24.3},{"panel":"R","series":"H-PVA-b","shift":2728.6,"intensity":21},{"panel":"R","series":"H-PVA-b","shift":2736,"intensity":16},{"panel":"R","series":"H-PVA-b","shift":2743.5,"intensity":19.3},{"panel":"R","series":"H-PVA-b","shift":2751.2,"intensity":9.3},{"panel":"R","series":"H-PVA-b","shift":2758.7,"intensity":14.3},{"panel":"R","series":"H-PVA-b","shift":2766.1,"intensity":7.7},{"panel":"R","series":"H-PVA-b","shift":2773.8,"intensity":12.7},{"panel":"R","series":"H-PVA-b","shift":2781.3,"intensity":6.7},{"panel":"R","series":"H-PVA-b","shift":2791,"intensity":12.7},{"panel":"R","series":"H-PVA-b","shift":2801,"intensity":13.3},{"panel":"R","series":"H-PVA-b","shift":2808.5,"intensity":9.3},{"panel":"R","series":"H-PVA-b","shift":2817.5,"intensity":12.7},{"panel":"R","series":"H-PVA-b","shift":2826.6,"intensity":9.3},{"panel":"R","series":"H-PVA-b","shift":2832.7,"intensity":26},{"panel":"R","series":"H-PVA-b","shift":2837.9,"intensity":79.3},{"panel":"R","series":"H-PVA-b","shift":2842.4,"intensity":139.3},{"panel":"R","series":"H-PVA-b","shift":2847.7,"intensity":172.7},{"panel":"R","series":"H-PVA-b","shift":2853.8,"intensity":139.3},{"panel":"R","series":"H-PVA-b","shift":2861.2,"intensity":92.7},{"panel":"R","series":"H-PVA-b","shift":2867.3,"intensity":72.7},{"panel":"R","series":"H-PVA-b","shift":2874.1,"intensity":92.7},{"panel":"R","series":"H-PVA-b","shift":2878,"intensity":139.3},{"panel":"R","series":"H-PVA-b","shift":2881.6,"intensity":154.3},{"panel":"R","series":"H-PVA-b","shift":2885.5,"intensity":139.3},{"panel":"R","series":"H-PVA-b","shift":2889.3,"intensity":72.7},{"panel":"R","series":"H-PVA-b","shift":2896.8,"intensity":56},{"panel":"R","series":"H-PVA-b","shift":2904.3,"intensity":46},{"panel":"R","series":"H-PVA-b","shift":2911.9,"intensity":22.7},{"panel":"R","series":"H-PVA-b","shift":2919.4,"intensity":16},{"panel":"R","series":"H-PVA-b","shift":2926.9,"intensity":21},{"panel":"R","series":"H-PVA-b","shift":2932.3,"intensity":31},{"panel":"R","series":"H-PVA-b","shift":2938.2,"intensity":26},{"panel":"R","series":"H-PVA-b","shift":2945.9,"intensity":12.7},{"panel":"R","series":"H-PVA-b","shift":2953.4,"intensity":7.7},{"panel":"R","series":"H-PVA-b","shift":2962.4,"intensity":11},{"panel":"R","series":"H-PVA-b","shift":2972.2,"intensity":6},{"panel":"R","series":"H-PVA-b","shift":2982.1,"intensity":9.3},{"panel":"R","series":"H-PVA-b","shift":2991.2,"intensity":4.3},{"panel":"R","series":"H-PVA-b","shift":3000.2,"intensity":9.3},{"panel":"R","series":"H-PVA-b","shift":3010,"intensity":6},{"panel":"R","series":"H-PVA-b","shift":3017.5,"intensity":9.3},{"panel":"R","series":"H-PVA-b","shift":3022.9,"intensity":6},{"panel":"R","series":"H-PVA-b","shift":3026.5,"intensity":97.7},{"panel":"R","series":"H-PVA-b","shift":3030.4,"intensity":4.3},{"panel":"R","series":"H-PVA-b","shift":3040.1,"intensity":6.7},{"panel":"R","series":"H-PVA-b","shift":3051.4,"intensity":6},{"panel":"R","series":"H-PVA-b","shift":3062.7,"intensity":7.7},{"panel":"R","series":"H-PVA-b","shift":3074.1,"intensity":6},{"panel":"R","series":"H-PVA-b","shift":3085.4,"intensity":11},{"panel":"R","series":"H-PVA-b","shift":3096.7,"intensity":9.3},{"panel":"R","series":"H-PVA-b","shift":3105.8,"intensity":14.3},{"panel":"R","series":"H-PVA-b","shift":3111.9,"intensity":26},{"panel":"R","series":"H-PVA-b","shift":3115.7,"intensity":2.7},{"panel":"R","series":"H-PVA-b","shift":3119,"intensity":364.3},{"panel":"R","series":"H-PVA-b","shift":3122.4,"intensity":1},{"panel":"R","series":"H-PVA-b","shift":3128.4,"intensity":24.3},{"panel":"R","series":"H-PVA-b","shift":3134.5,"intensity":12.7},{"panel":"R","series":"H-PVA-b","shift":3142,"intensity":17.7},{"panel":"R","series":"H-PVA-b","shift":3149.7,"intensity":9.3},{"panel":"R","series":"H-PVA-b","shift":3158.7,"intensity":14.3},{"panel":"R","series":"H-PVA-b","shift":3168.5,"intensity":7.7},{"panel":"R","series":"H-PVA-b","shift":3176,"intensity":12.7},{"panel":"R","series":"H-PVA-b","shift":3185.9,"intensity":6},{"panel":"R","series":"H-PVA-b","shift":3195,"intensity":12.7},{"panel":"R","series":"H-PVA-b","shift":3204,"intensity":7.7},{"panel":"R","series":"H-PVA-b","shift":3213.7,"intensity":9.3},{"panel":"R","series":"H-PVA-b","shift":3223.5,"intensity":7.7},{"panel":"R","series":"H-PVA-b","shift":3232.6,"intensity":10},{"panel":"R","series":"H-PVA-b","shift":3240.2,"intensity":6},{"panel":"R","series":"H-PVA-b","shift":3249.3,"intensity":17.7},{"panel":"R","series":"H-PVA-b","shift":3255.2,"intensity":7.7}
],
"labels": [
{"panel":"L","series":"H-PVA-b","kind":"peak","label":"1657","shift":1629.4,"intensity":309},
{"panel":"L","series":"H-PVA-b","kind":"peak","label":"1699","shift":1734,"intensity":333},
{"panel":"L","series":"H-PVA-a","kind":"peak","label":"2211","shift":2220,"intensity":366},
{"panel":"L","series":"H-PVA-a","kind":"peak","label":"2327","shift":2337,"intensity":351},
{"panel":"L","series":"H-PVA-b","kind":"peak","label":"1902","shift":1920.5,"intensity":170},
{"panel":"L","series":"H-PVA-b","kind":"peak","label":"2211","shift":2172,"intensity":161.5},
{"panel":"L","series":"H-PVA-b","kind":"peak","label":"2232","shift":2285,"intensity":152.5},
{"panel":"L","series":"H-PVA-b","kind":"peak","label":"2327","shift":2339,"intensity":56},
{"panel":"R","series":"PVA","kind":"peak","label":"2909","shift":2928,"intensity":598.5},
{"panel":"R","series":"PVA","kind":"name","label":"PVA","shift":3344,"intensity":480},
{"panel":"R","series":"H-PVA-a","kind":"peak","label":"2845","shift":2792.6,"intensity":420},
{"panel":"R","series":"H-PVA-a","kind":"peak","label":"2880","shift":2911.5,"intensity":449.5},
{"panel":"R","series":"H-PVA-a","kind":"peak","label":"2932","shift":2966,"intensity":331},
{"panel":"R","series":"H-PVA-a","kind":"peak","label":"3532","shift":3542,"intensity":398},
{"panel":"R","series":"H-PVA-a","kind":"name","label":"H-PVA-a","shift":3349.6,"intensity":268.5},
{"panel":"R","series":"H-PVA-b","kind":"peak","label":"3119","shift":3134.5,"intensity":386},
{"panel":"R","series":"H-PVA-b","kind":"peak","label":"2845","shift":2813,"intensity":189.3},
{"panel":"R","series":"H-PVA-b","kind":"peak","label":"2880","shift":2921.7,"intensity":172},
{"panel":"R","series":"H-PVA-b","kind":"peak","label":"3026","shift":3037,"intensity":122.5},
{"panel":"R","series":"H-PVA-b","kind":"peak","label":"2932","shift":2956.8,"intensity":48},
{"panel":"R","series":"H-PVA-b","kind":"name","label":"H-PVA-b","shift":3363,"intensity":77}
]
},
"hconcat": [
{
"width": 374, "height": 626,
"layer": [
{"data": {"name": "spectra"}, "transform": [{"filter": "datum.panel == 'L'"}],
 "mark": {"type": "line", "strokeWidth": 2, "strokeJoin": "round"},
 "encoding": {
  "x": {"field": "shift", "type": "quantitative", "scale": {"domain": [1598, 2381], "nice": false, "zero": false},
        "axis": {"title": null, "values": [1650,1725,1800,1875,1950,2025,2100,2175,2250,2325], "format": "d",
                 "labelExpr": "datum.value % 150 == 0 ? datum.label : ''", "grid": false,
                 "domainColor": "black", "domainWidth": 1.8, "tickColor": "black", "tickWidth": 1.5,
                 "tickSize": {"condition": {"test": "datum.value % 150 == 0", "value": 5}, "value": 3},
                 "labelFontSize": 22, "labelFont": "Open Sans", "labelColor": "black", "labelPadding": 2,
                 "labelOverlap": false, "labelFlush": false, "labelBound": false}},
  "y": {"field": "intensity", "type": "quantitative", "scale": {"domain": [0, 626], "nice": false, "zero": false}, "axis": null},
  "color": {"field": "series", "type": "nominal", "scale": {"domain": ["PVA", "H-PVA-a", "H-PVA-b"], "range": ["#000000", "#0000dd", "#ee1111"]}, "legend": null}
 }},
{"data": {"name": "labels"}, "transform": [{"filter": "datum.panel == 'L'"}],
 "mark": {"type": "text", "fontSize": 20, "font": "Open Sans", "baseline": "middle", "align": "center"},
 "encoding": {
  "x": {"field": "shift", "type": "quantitative"},
  "y": {"field": "intensity", "type": "quantitative"},
  "text": {"field": "label", "type": "nominal"},
  "color": {"field": "series", "type": "nominal", "legend": null}
 }}
]
},
{
"width": 420, "height": 626,
"layer": [
{"data": {"name": "spectra"}, "transform": [{"filter": "datum.panel == 'R'"}],
 "mark": {"type": "line", "strokeWidth": 2, "strokeJoin": "round"},
 "encoding": {
  "x": {"field": "shift", "type": "quantitative", "scale": {"domain": [2650, 3600], "nice": false, "zero": false},
        "axis": {"title": null, "values": [2700,2800,2900,3000,3100,3200,3300,3400,3500,3600], "format": "d",
                 "labelExpr": "datum.value % 200 == 0 ? datum.label : ''", "grid": false,
                 "domainColor": "black", "domainWidth": 1.8, "tickColor": "black", "tickWidth": 1.5,
                 "tickSize": {"condition": {"test": "datum.value % 200 == 0", "value": 5}, "value": 3},
                 "labelFontSize": 22, "labelFont": "Open Sans", "labelColor": "black", "labelPadding": 2,
                 "labelOverlap": false, "labelFlush": false, "labelBound": false}},
  "y": {"field": "intensity", "type": "quantitative", "scale": {"domain": [0, 626], "nice": false, "zero": false}, "axis": null},
  "color": {"field": "series", "type": "nominal", "scale": {"domain": ["PVA", "H-PVA-a", "H-PVA-b"], "range": ["#000000", "#0000dd", "#ee1111"]}, "legend": null}
 }},
{"data": {"name": "labels"}, "transform": [{"filter": "datum.panel == 'R' && datum.kind == 'peak'"}],
 "mark": {"type": "text", "fontSize": 20, "font": "Open Sans", "baseline": "middle", "align": "center"},
 "encoding": {
  "x": {"field": "shift", "type": "quantitative"},
  "y": {"field": "intensity", "type": "quantitative"},
  "text": {"field": "label", "type": "nominal"},
  "color": {"field": "series", "type": "nominal", "legend": null}
 }},
{"data": {"name": "labels"}, "transform": [{"filter": "datum.panel == 'R' && datum.kind == 'name'"}],
 "mark": {"type": "text", "fontSize": 28, "font": "Open Sans", "baseline": "middle", "align": "center"},
 "encoding": {
  "x": {"field": "shift", "type": "quantitative"},
  "y": {"field": "intensity", "type": "quantitative"},
  "text": {"field": "label", "type": "nominal"},
  "color": {"field": "series", "type": "nominal", "legend": null}
 }}
]
}
]
}
